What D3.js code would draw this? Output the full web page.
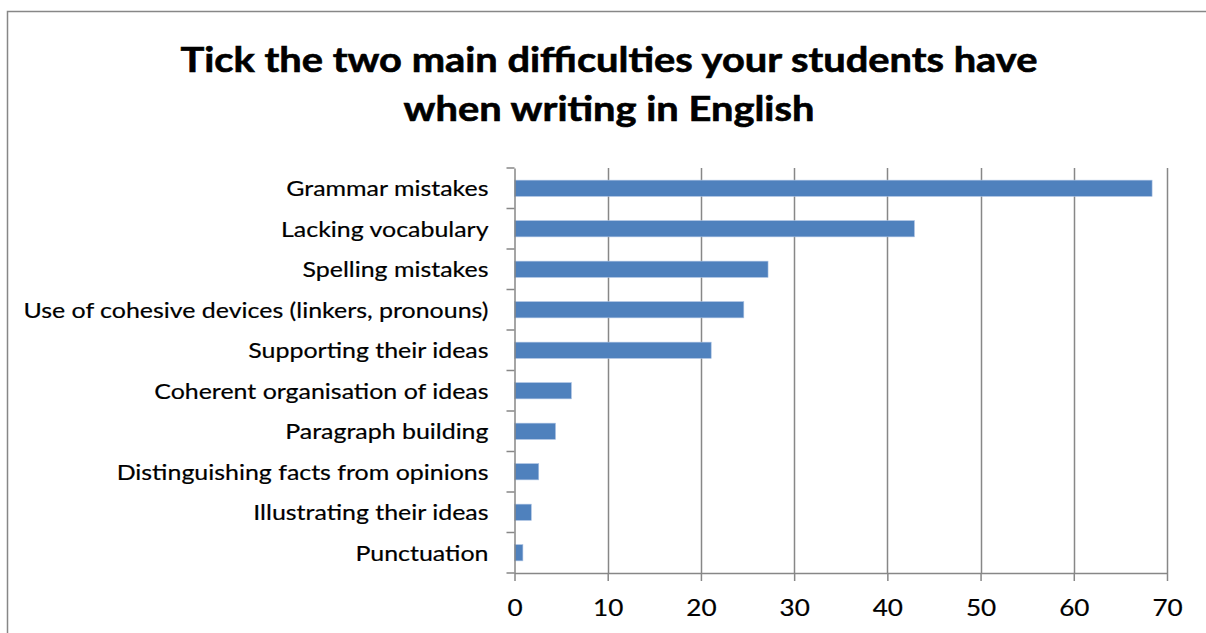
<!DOCTYPE html>
<html>
<head>
<meta charset="utf-8">
<script src="https://cdn.jsdelivr.net/npm/d3@7"></script>
<style>
  html, body { margin: 0; padding: 0; background: #fff; overflow: hidden; }
  text { font-family: Lato, "Open Sans", sans-serif; }
</style>
</head>
<body>
<svg id="chart" width="1206" height="633"></svg>
<script>
// Survey responses: share of teachers ticking each writing difficulty
const categories = [
  "Grammar mistakes",
  "Lacking vocabulary",
  "Spelling mistakes",
  "Use of cohesive devices (linkers, pronouns)",
  "Supporting their ideas",
  "Coherent organisation of ideas",
  "Paragraph building",
  "Distinguishing facts from opinions",
  "Illustrating their ideas",
  "Punctuation"
];
const values = [68.4, 42.9, 27.2, 24.6, 21.1, 6.1, 4.4, 2.6, 1.8, 0.9];
const xTicks = [0, 10, 20, 30, 40, 50, 60, 70];
const titleLines = [
  "Tick the two main difficulties your students have",
  "when writing in English"
];

const W = 1206, H = 633;
const plot = { left: 514.5, right: 1167, top: 168, bottom: 573 };
const gridColor = "#878787";
const barColor = "#4F81BD";

const svg = d3.select("#chart");

// Chart frame (runs off the right and bottom edges)
svg.append("rect")
  .attr("x", 7.5).attr("y", 11.5)
  .attr("width", 1260).attr("height", 700)
  .attr("fill", "#fff")
  .attr("stroke", gridColor).attr("stroke-width", 1.5);

const x = d3.scaleLinear().domain([0, 70]).range([plot.left, plot.right]);
const y = d3.scaleBand()
  .domain(categories)
  .range([plot.top, plot.bottom])
  .paddingInner(0.6)
  .paddingOuter(0.3);

// Title
const title = svg.append("g").attr("class", "title");
const titleText = title.selectAll("text")
  .data(titleLines)
  .join("text")
  .attr("x", 609)
  .attr("y", (d, i) => 71.7 + i * 48.8)
  .attr("text-anchor", "middle")
  .attr("font-size", 34)
  .attr("font-weight", 700)
  .attr("fill", "#000")
  .attr("stroke", "#000")
  .attr("stroke-width", 0.6)
  .text(d => d);
{
  const n0 = titleText.nodes()[0].getComputedTextLength();
  const k = 857 / n0;
  titleText.each(function () {
    const len = this.getComputedTextLength();
    d3.select(this).attr("textLength", len * k).attr("lengthAdjust", "spacingAndGlyphs");
  });
}

// Vertical gridlines
svg.append("g").attr("class", "grid")
  .selectAll("line")
  .data(xTicks.filter(t => t > 0))
  .join("line")
  .attr("x1", d => Math.round(x(d)) + 0.5)
  .attr("x2", d => Math.round(x(d)) + 0.5)
  .attr("y1", plot.top)
  .attr("y2", plot.bottom)
  .attr("stroke", gridColor)
  .attr("stroke-width", 1.5);

// Bars
svg.append("g").attr("class", "bars")
  .selectAll("rect")
  .data(categories.map((c, i) => ({ c, v: values[i] })))
  .join("rect")
  .attr("x", x(0))
  .attr("y", d => y(d.c))
  .attr("width", d => x(d.v) - x(0))
  .attr("height", y.bandwidth())
  .attr("fill", barColor)
  .attr("stroke", "#a9c1e2")
  .attr("stroke-width", 0.6);

// X axis
const xAxis = svg.append("g")
  .attr("transform", `translate(0,${plot.bottom})`)
  .call(d3.axisBottom(x).tickValues(xTicks).tickSize(8).tickSizeOuter(0));
xAxis.select(".domain").attr("stroke", gridColor).attr("stroke-width", 1.5);
xAxis.selectAll(".tick line").attr("stroke", gridColor).attr("stroke-width", 1.5);
xAxis.selectAll(".tick text")
  .attr("y", 43).attr("dy", null)
  .attr("font-size", 23)
  .attr("font-family", "Lato, sans-serif")
  .attr("fill", "#000")
  .attr("stroke", "#000")
  .attr("stroke-width", 0.2);

// Y axis: category labels
const yAxis = svg.append("g")
  .attr("transform", `translate(${plot.left},0)`)
  .call(d3.axisLeft(y).tickSize(0).tickPadding(26));
yAxis.select(".domain").attr("stroke", gridColor).attr("stroke-width", 1.5);
const yLabels = yAxis.selectAll(".tick text")
  .attr("font-size", 22)
  .attr("font-family", "Lato, sans-serif")
  .attr("dy", "0.36em")
  .attr("fill", "#000")
  .attr("stroke", "#000")
  .attr("stroke-width", 0.2);

// Compress labels to a Calibri-like width
{
  let longest = 0;
  yLabels.each(function () { longest = Math.max(longest, this.getComputedTextLength()); });
  const k = 465 / longest;
  yLabels.each(function () {
    const len = this.getComputedTextLength();
    d3.select(this).attr("textLength", len * k).attr("lengthAdjust", "spacingAndGlyphs");
  });
  xAxis.selectAll(".tick text").each(function () {
    const len = this.getComputedTextLength();
    d3.select(this).attr("textLength", len * k).attr("lengthAdjust", "spacingAndGlyphs");
  });
}

// Category boundary tick marks on the y axis
const step = y.step();
svg.append("g").attr("class", "ytick-marks")
  .selectAll("line")
  .data(d3.range(categories.length + 1))
  .join("line")
  .attr("x1", plot.left - 8)
  .attr("x2", plot.left)
  .attr("y1", i => plot.top + i * step)
  .attr("y2", i => plot.top + i * step)
  .attr("stroke", gridColor)
  .attr("stroke-width", 1.5);
</script>
</body>
</html>
